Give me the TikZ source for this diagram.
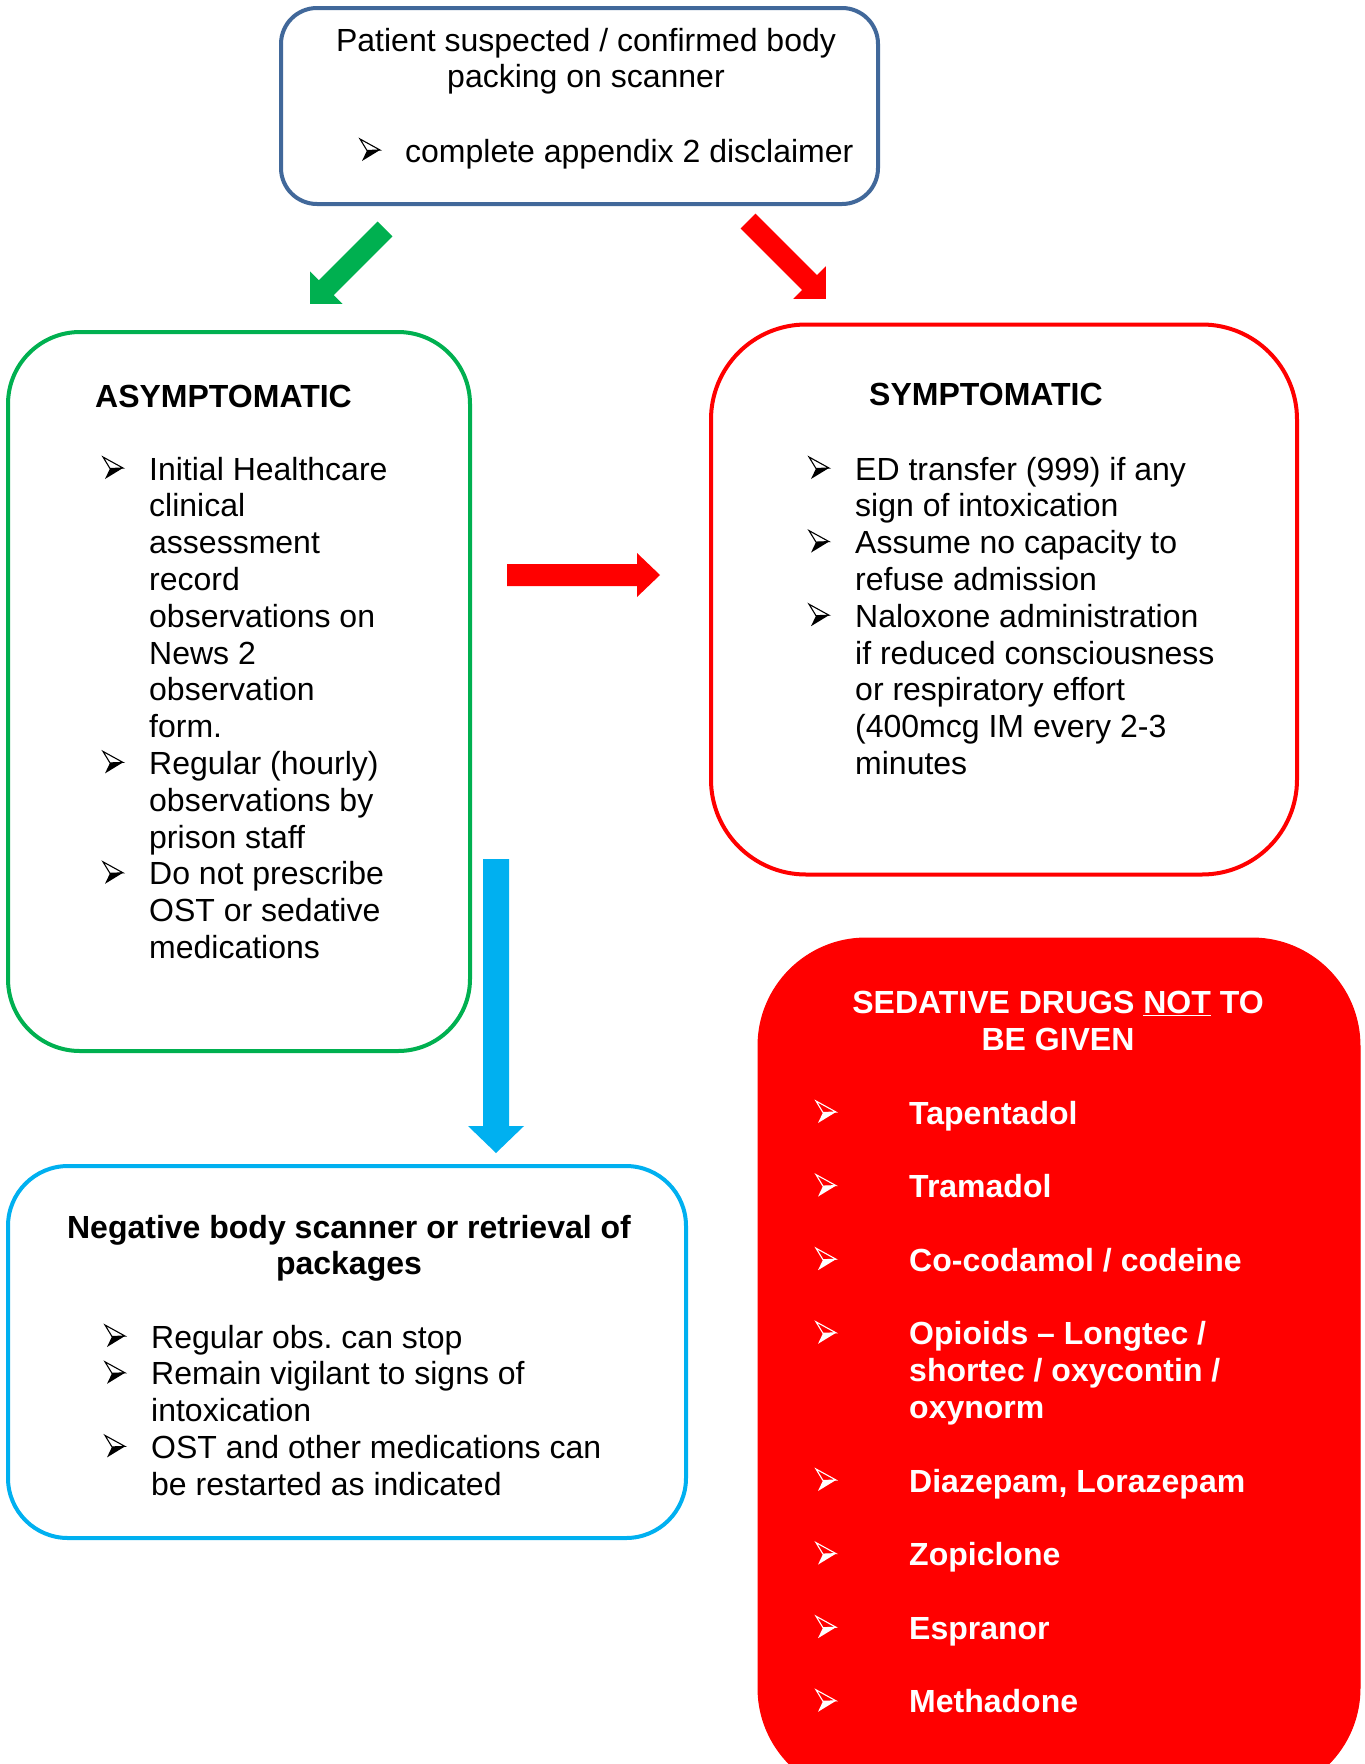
\documentclass[tikz,border=0pt]{standalone}
\usepackage{fontspec}
\setmainfont{Liberation Sans}
\frenchspacing
\definecolor{topblue}{HTML}{41689A}
\definecolor{grn}{HTML}{00B050}
\definecolor{rd}{HTML}{FF0000}
\definecolor{lblue}{HTML}{00B0F0}
\newcommand\txtlines[1]{\begin{tabular}[t]{@{}l@{}}#1\end{tabular}}
\newcommand\ctrlines[1]{\begin{tabular}[t]{@{}c@{}}#1\end{tabular}}
\tikzset{
  txt/.style={anchor=base west, inner sep=0pt, font=\fontsize{32}{36.8}\selectfont},
  ctxt/.style={anchor=base, inner sep=0pt, font=\fontsize{32}{36.8}\selectfont},
  boxshape/.style={draw, line width=4pt, inner sep=0pt},
  bul/.pic={
    \fill (2,-1) -- (7,-11.5) -- (20,-12) -- cycle;
    \draw[line width=1.1pt, line join=miter] (0,-23) -- (20,-12) -- (7,-11.5) -- cycle;
  },
  blockarrow/.pic={
    \fill (0,-\pgfkeysvalueof{/tikz/bw}) -- (\pgfkeysvalueof{/tikz/bl}-\pgfkeysvalueof{/tikz/bh},-\pgfkeysvalueof{/tikz/bw})
      -- (\pgfkeysvalueof{/tikz/bl}-\pgfkeysvalueof{/tikz/bh},-\pgfkeysvalueof{/tikz/bH})
      -- (\pgfkeysvalueof{/tikz/bl},0)
      -- (\pgfkeysvalueof{/tikz/bl}-\pgfkeysvalueof{/tikz/bh},\pgfkeysvalueof{/tikz/bH})
      -- (\pgfkeysvalueof{/tikz/bl}-\pgfkeysvalueof{/tikz/bh},\pgfkeysvalueof{/tikz/bw})
      -- (0,\pgfkeysvalueof{/tikz/bw}) -- cycle;
  },
  bw/.initial=10, bl/.initial=100, bh/.initial=23, bH/.initial=23,
}
\begin{document}
\begin{tikzpicture}[x=1pt,y=-1pt]
\useasboundingbox (0,0) rectangle (1365,1764);
\clip (0,0) rectangle (1365,1764);
\fill[white] (0,0) rectangle (1365,1764);

% boxes
\node[boxshape, draw=topblue, rounded corners=36pt, minimum width=597pt, minimum height=196pt] (top) at (579.5,106) {};
\node[boxshape, draw=grn, rounded corners=72pt, minimum width=462pt, minimum height=719pt] (asy) at (239,691.5) {};
\node[boxshape, draw=rd, rounded corners=95pt, minimum width=586pt, minimum height=550pt] (sym) at (1004,599.5) {};
\node[boxshape, draw=lblue, rounded corners=60pt, minimum width=678pt, minimum height=372pt] (neg) at (347,1352) {};
\node[boxshape, draw=rd, fill=rd, line width=1pt, rounded corners=108pt, minimum width=602pt, minimum height=858pt] (sed) at (1059,1367) {};

% arrows
\pic[grn, bw=10.5, bl=106, bh=23, bH=23, shift={(385,229)}, rotate=-135] {blockarrow};
\pic[rd, bw=10.5, bl=110, bh=23, bH=23, shift={(748,221)}, rotate=-45] {blockarrow};
\pic[rd, bw=11, bl=153, bh=23, bH=22, shift={(507,575)}] {blockarrow};
\pic[lblue, bw=13, bl=294, bh=27, bH=28, shift={(496,859)}, rotate=-90] {blockarrow};

% top box text
\node[ctxt] (toptxt) at (586,51) {\ctrlines{Patient suspected / confirmed body\\packing on scanner}};
\pic at (360,162) {bul};
\node[txt] (topbul) at (405,162) {complete appendix 2 disclaimer};

% asymptomatic
\node[txt, font=\fontsize{32}{36.8}\selectfont\bfseries] (asyh) at (95,407) {ASYMPTOMATIC};
\node[txt] (asyt) at (149,480) {\txtlines{Initial Healthcare\\clinical\\assessment\\record\\observations on\\News 2\\observation\\form.\\Regular (hourly)\\observations by\\prison staff\\Do not prescribe\\OST or sedative\\medications}};
\pic at (103,480) {bul};
\pic at (103,774.4) {bul};
\pic at (103,884.8) {bul};

% symptomatic
\node[txt, font=\fontsize{32}{36.8}\selectfont\bfseries] (symh) at (869,405) {SYMPTOMATIC};
\node[txt] (symt) at (855,480) {\txtlines{ED transfer (999) if any\\sign of intoxication\\Assume no capacity to\\refuse admission\\Naloxone administration\\if reduced consciousness\\or respiratory effort\\(400mcg IM every 2-3\\minutes}};
\pic at (809,480) {bul};
\pic at (809,553.6) {bul};
\pic at (809,627.2) {bul};

% negative
\node[ctxt, font=\fontsize{32}{36.8}\selectfont\bfseries] (negh) at (349,1238) {\ctrlines{Negative body scanner or retrieval of\\packages}};
\node[txt] (negt) at (151,1348) {\txtlines{Regular obs. can stop\\Remain vigilant to signs of\\intoxication\\OST and other medications can\\be restarted as indicated}};
\pic at (105,1348) {bul};
\pic at (105,1384.8) {bul};
\pic at (105,1458.4) {bul};

% sedative
\node[ctxt, text=white, font=\fontsize{32}{36.8}\selectfont\bfseries] (sedh) at (1058,1013.5) {\ctrlines{SEDATIVE DRUGS \underline{NOT} TO\\BE GIVEN}};
\node[txt, text=white, font=\fontsize{32}{36.8}\selectfont\bfseries] (sedt) at (909,1124) {\txtlines{Tapentadol\\ \\Tramadol\\ \\Co-codamol / codeine\\ \\Opioids – Longtec /\\shortec / oxycontin /\\oxynorm\\ \\Diazepam, Lorazepam\\ \\Zopiclone\\ \\Espranor\\ \\Methadone}};
\foreach \k in {0,2,4,6,10,12,14,16}{
  \pic[white] at (816,1124+36.8*\k) {bul};
}
\end{tikzpicture}
\end{document}
